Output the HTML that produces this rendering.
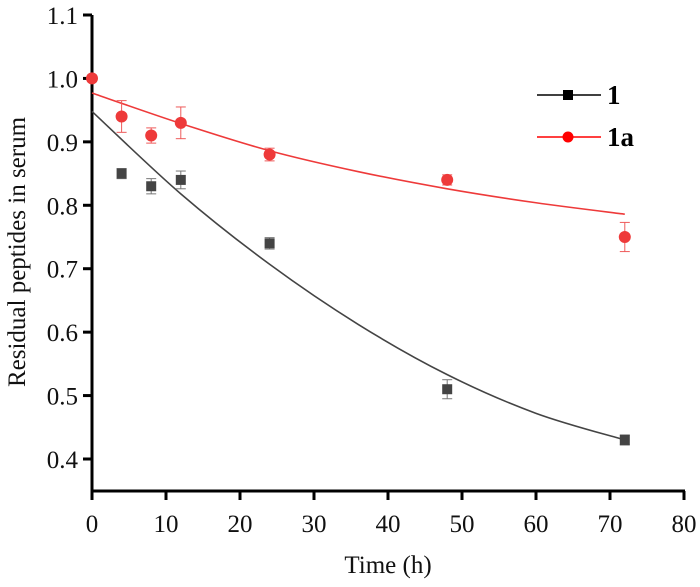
<!DOCTYPE html>
<html><head><meta charset="utf-8">
<style>
html,body{margin:0;padding:0;background:#fff;}
svg{display:block;font-family:"Liberation Serif",serif;}
</style></head>
<body>
<svg id="chart" width="700" height="587" viewBox="0 0 700 587" xmlns="http://www.w3.org/2000/svg"></svg>
<script>
const timesA = [4, 8, 12, 24, 48, 72];
const valuesA = [0.85, 0.83, 0.84, 0.74, 0.51, 0.43];
const errorsA = [0.008, 0.012, 0.014, 0.009, 0.015, 0.008];
const timesB = [0, 4, 8, 12, 24, 48, 72];
const valuesB = [1.0, 0.94, 0.91, 0.93, 0.88, 0.84, 0.75];
const errorsB = [0.005, 0.025, 0.012, 0.025, 0.01, 0.008, 0.023];
const fitTimes = [0, 12, 24, 36, 48, 60, 72];
const fitA = [0.948, 0.818, 0.707, 0.612, 0.533, 0.472, 0.43];
const fitB = [0.977, 0.929, 0.886, 0.853, 0.826, 0.804, 0.786];
const xTicks = [0, 10, 20, 30, 40, 50, 60, 70, 80];
const yTicks = [0.4, 0.5, 0.6, 0.7, 0.8, 0.9, 1.0, 1.1];

const NS = "http://www.w3.org/2000/svg";
const svg = document.getElementById("chart");
const X0 = 92, X1 = 684, Y0 = 491;
function xs(t){ return X0 + (t - 0) / 80 * (X1 - X0); }
function ys(v){ return 459 - (v - 0.4) * 634.3; }
function mk(tag, attrs, parent){
  const e = document.createElementNS(NS, tag);
  for (const k in attrs) e.setAttribute(k, attrs[k]);
  (parent || svg).appendChild(e);
  return e;
}

const axes = mk("g", {});


mk("line", {x1: X0, y1: 15, x2: X0, y2: Y0 + 1.5, stroke: "#000", "stroke-width": 3}, axes);
mk("line", {x1: X0 - 1.5, y1: Y0, x2: X1 + 1, y2: Y0, stroke: "#000", "stroke-width": 3}, axes);

xTicks.forEach(t => {
  mk("line", {x1: xs(t), y1: Y0, x2: xs(t), y2: Y0 + 9, stroke: "#000", "stroke-width": 3}, axes);
  const tx = mk("text", {x: xs(t), y: Y0 + 41, "text-anchor": "middle", "font-size": 25, fill: "#111"}, axes);
  tx.textContent = String(t);
  
  
});
yTicks.forEach(v => {
  mk("line", {x1: X0 - 9, y1: ys(v), x2: X0, y2: ys(v), stroke: "#000", "stroke-width": 3}, axes);
  const tx = mk("text", {x: X0 - 14, y: ys(v) + 9, "text-anchor": "end", "font-size": 25, fill: "#111"}, axes);
  tx.textContent = v.toFixed(1);
  
  
});
const xt = mk("text", {x: 388, y: 573, "text-anchor": "middle", "font-size": 25, fill: "#111"});
xt.textContent = "Time (h)";


const yt = mk("text", {x: 0, y: 0, "text-anchor": "middle", "font-size": 25, fill: "#111", transform: "translate(25,252) rotate(-90)"});
yt.textContent = "Residual peptides in serum";



function smoothPath(ts, vs){
  const p = ts.map((t, i) => [xs(t), ys(vs[i])]);
  let d = "M" + p[0][0] + "," + p[0][1];
  for (let i = 0; i < p.length - 1; i++){
    const p0 = p[Math.max(i - 1, 0)], p1 = p[i], p2 = p[i + 1], p3 = p[Math.min(i + 2, p.length - 1)];
    const c1 = [p1[0] + (p2[0] - p0[0]) / 6, p1[1] + (p2[1] - p0[1]) / 6];
    const c2 = [p2[0] - (p3[0] - p1[0]) / 6, p2[1] - (p3[1] - p1[1]) / 6];
    d += " C" + c1 + " " + c2 + " " + p2;
  }
  return d;
}
const fa = mk("path", {d: smoothPath(fitTimes, fitA), fill: "none", stroke: "#444", "stroke-width": 1.6});


const fb = mk("path", {d: smoothPath(fitTimes, fitB), fill: "none", stroke: "#ee3a3a", "stroke-width": 1.6});



function errBar(g, x, v, e, col){
  mk("line", {x1: x, y1: ys(v + e), x2: x, y2: ys(v - e), stroke: col, "stroke-width": 1}, g);
  mk("line", {x1: x - 5, y1: ys(v + e), x2: x + 5, y2: ys(v + e), stroke: col, "stroke-width": 1}, g);
  mk("line", {x1: x - 5, y1: ys(v - e), x2: x + 5, y2: ys(v - e), stroke: col, "stroke-width": 1}, g);
}
timesA.forEach((t, i) => {
  const g = mk("g", {});
  
  
  errBar(g, xs(t), valuesA[i], errorsA[i], "#777");
  mk("rect", {x: xs(t) - 5, y: ys(valuesA[i]) - 5, width: 10, height: 10, fill: "#444"}, g);
});
timesB.forEach((t, i) => {
  const g = mk("g", {});
  
  
  errBar(g, xs(t), valuesB[i], errorsB[i], "#ee5a5a");
  mk("circle", {cx: xs(t), cy: ys(valuesB[i]), r: 6, fill: "#ee3a3a"}, g);
});

const lg = mk("g", {});


const l1 = mk("g", {}, lg);


mk("line", {x1: 537, y1: 95, x2: 601, y2: 95, stroke: "#000", "stroke-width": 1.6}, l1);
mk("rect", {x: 563, y: 90, width: 10, height: 10, fill: "#000"}, l1);
const t1 = mk("text", {x: 607, y: 104, "font-size": 27, "font-weight": "bold", fill: "#000"}, l1);
t1.textContent = "1";
const l2 = mk("g", {}, lg);


mk("line", {x1: 537, y1: 137, x2: 601, y2: 137, stroke: "#f00", "stroke-width": 1.6}, l2);
mk("circle", {cx: 568, cy: 137, r: 5.5, fill: "#f00"}, l2);
const t2 = mk("text", {x: 607, y: 146, "font-size": 27, "font-weight": "bold", fill: "#000"}, l2);
t2.textContent = "1a";
</script>
</body></html>
